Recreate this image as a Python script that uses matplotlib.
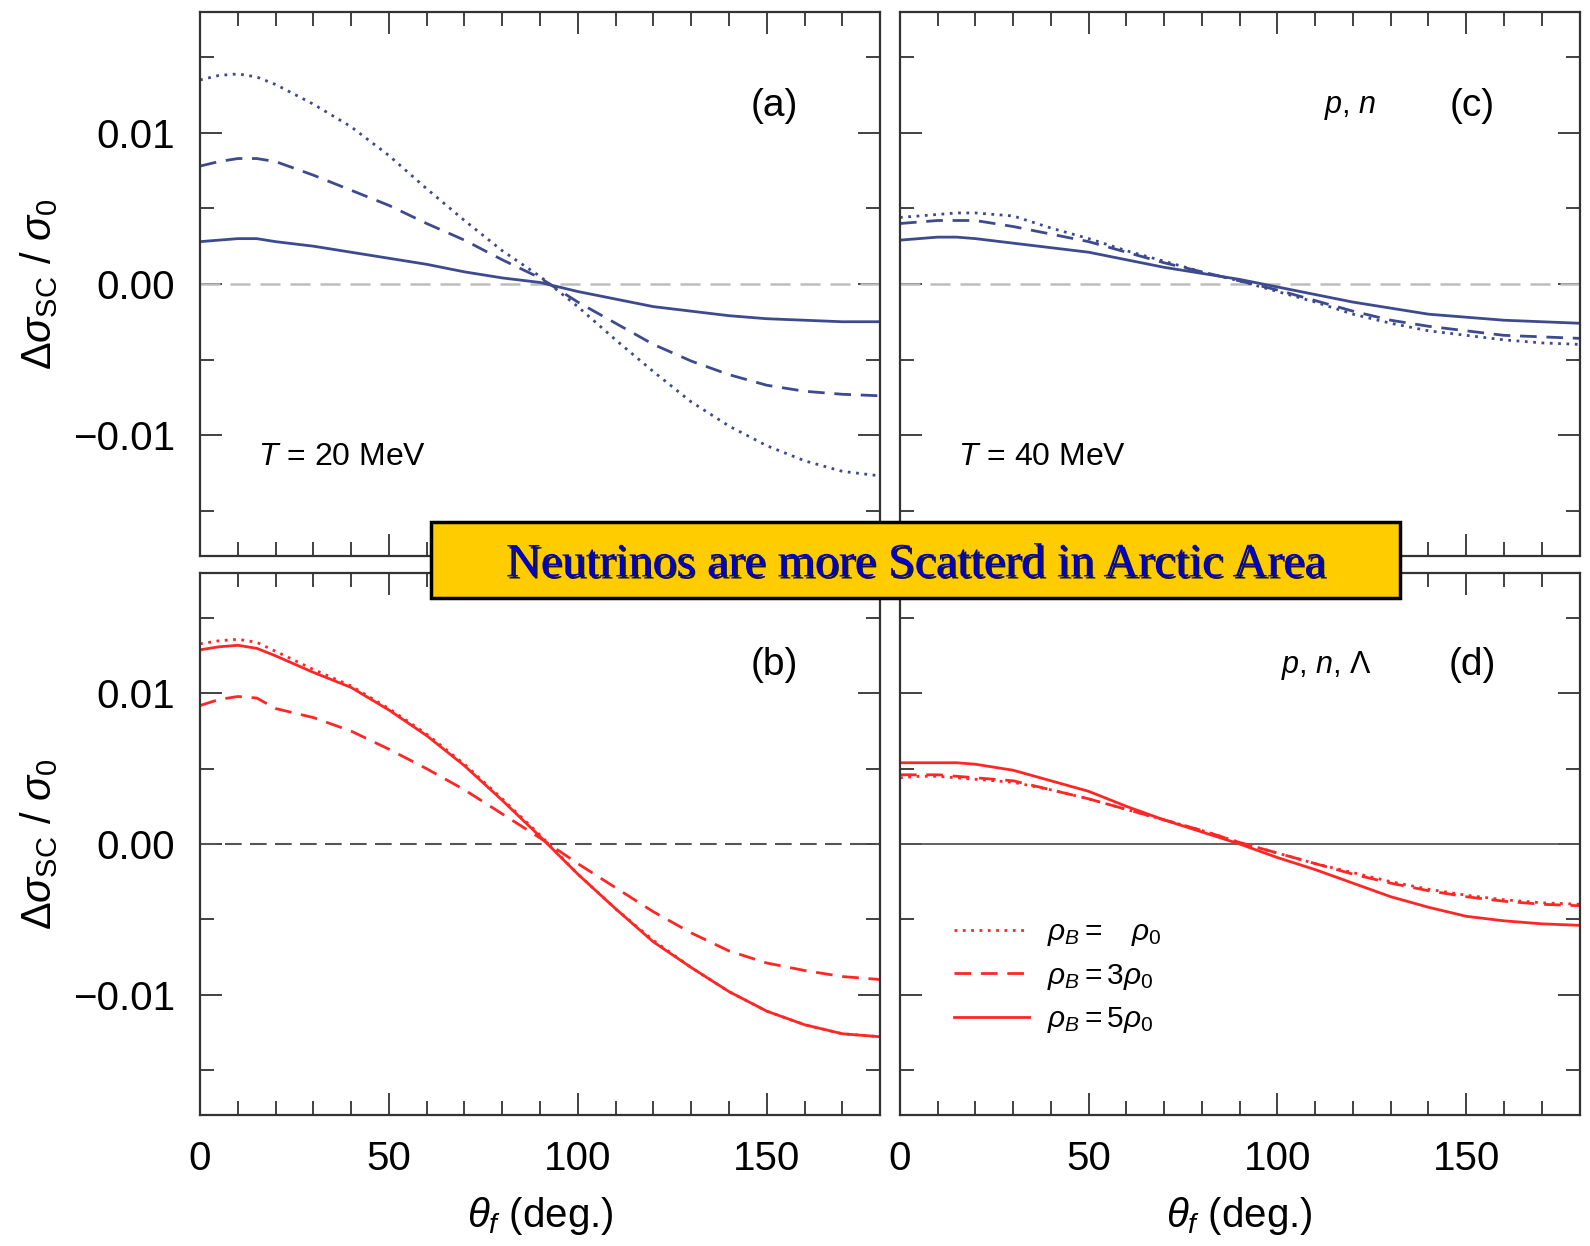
import matplotlib
matplotlib.use("Agg")
import matplotlib.pyplot as plt
import matplotlib.patheffects as pe
from matplotlib.patches import Rectangle
from matplotlib.ticker import MultipleLocator

plt.rcParams['font.family'] = ['Liberation Sans', 'DejaVu Sans']
plt.rcParams['mathtext.fontset'] = 'custom'
plt.rcParams['mathtext.rm'] = 'Liberation Sans'
plt.rcParams['mathtext.it'] = 'Liberation Sans:italic'
plt.rcParams['mathtext.bf'] = 'Liberation Sans:bold'

# ---------------- data ----------------
theta = [0, 5, 10, 15, 20, 30, 40, 50, 60, 70, 80, 90, 100, 110, 120, 130, 140, 150, 160, 170, 180]

# panel (a): T = 20 MeV, p, n
a_rho1 = [0.0135, 0.0138, 0.0139, 0.0137, 0.0132, 0.0119, 0.0104, 0.0085, 0.0063, 0.0042, 0.0022, 0.0005,
          -0.0015, -0.0037, -0.0058, -0.0078, -0.0094, -0.0107, -0.0117, -0.0124, -0.0127]
a_rho3 = [0.0078, 0.0081, 0.0083, 0.0083, 0.0081, 0.0072, 0.0062, 0.0052, 0.0040, 0.0029, 0.0016, 0.0004,
          -0.0012, -0.0026, -0.0040, -0.0051, -0.0060, -0.0067, -0.0071, -0.0073, -0.0074]
a_rho5 = [0.0028, 0.0029, 0.0030, 0.0030, 0.0028, 0.0025, 0.0021, 0.0017, 0.0013, 0.0008, 0.0004, 0.0001,
          -0.0005, -0.0010, -0.0015, -0.0018, -0.0021, -0.0023, -0.0024, -0.0025, -0.0025]

# panel (c): T = 40 MeV, p, n
c_rho1 = [0.0044, 0.0045, 0.0046, 0.0047, 0.0047, 0.0045, 0.0037, 0.0030, 0.0022, 0.0015, 0.0008, 0.0002,
          -0.0005, -0.0012, -0.0020, -0.0026, -0.0031, -0.0034, -0.0037, -0.0039, -0.0040]
c_rho3 = [0.0040, 0.0041, 0.0042, 0.0042, 0.0042, 0.0038, 0.0033, 0.0028, 0.0021, 0.0014, 0.0008, 0.0002,
          -0.0004, -0.0011, -0.0018, -0.0024, -0.0028, -0.0031, -0.0034, -0.0035, -0.0036]
c_rho5 = [0.0029, 0.0030, 0.0031, 0.0031, 0.0030, 0.0027, 0.0024, 0.0021, 0.0016, 0.0011, 0.0007, 0.0003,
          -0.0002, -0.0007, -0.0012, -0.0016, -0.0020, -0.0022, -0.0024, -0.0025, -0.0026]

# panel (b): T = 20 MeV, p, n, Lambda
b_rho1 = [0.0133, 0.0135, 0.0136, 0.0134, 0.0128, 0.0116, 0.0105, 0.0090, 0.0073, 0.0053, 0.0030, 0.0006,
          -0.0020, -0.0043, -0.0064, -0.0082, -0.0098, -0.0111, -0.0120, -0.0126, -0.0128]
b_rho3 = [0.0092, 0.0096, 0.0098, 0.0097, 0.0090, 0.0084, 0.0075, 0.0063, 0.0050, 0.0036, 0.0020, 0.0004,
          -0.0013, -0.0029, -0.0045, -0.0059, -0.0071, -0.0079, -0.0084, -0.0088, -0.0090]
b_rho5 = [0.0129, 0.0131, 0.0132, 0.0130, 0.0125, 0.0114, 0.0104, 0.0089, 0.0072, 0.0052, 0.0029, 0.0005,
          -0.0020, -0.0043, -0.0065, -0.0082, -0.0098, -0.0111, -0.0120, -0.0126, -0.0128]

# panel (d): T = 40 MeV, p, n, Lambda
d_rho1 = [0.0044, 0.0045, 0.0045, 0.0044, 0.0043, 0.0041, 0.0036, 0.0030, 0.0023, 0.0016, 0.0009, 0.0001,
          -0.0006, -0.0013, -0.0019, -0.0025, -0.0030, -0.0034, -0.0037, -0.0039, -0.0040]
d_rho3 = [0.0046, 0.0046, 0.0046, 0.0045, 0.0044, 0.0042, 0.0036, 0.0030, 0.0023, 0.0016, 0.0009, 0.0001,
          -0.0006, -0.0013, -0.0020, -0.0026, -0.0031, -0.0035, -0.0038, -0.0040, -0.0041]
d_rho5 = [0.0054, 0.0054, 0.0054, 0.0054, 0.0053, 0.0049, 0.0042, 0.0035, 0.0025, 0.0016, 0.0008, 0.0000,
          -0.0009, -0.0017, -0.0026, -0.0035, -0.0042, -0.0048, -0.0051, -0.0053, -0.0054]

y_ticks = [-0.01, 0.0, 0.01]
y_ticklabels = ['\u22120.01', '0.00', '0.01']
x_ticks = [0, 50, 100, 150]
legend_labels = [r'$\rho_B = \ \ \ \rho_0$', r'$\rho_B = 3\rho_0$', r'$\rho_B = 5\rho_0$']

BLUE = '#3e4a8e'
RED = '#ff2626'
DOT = (0, (1, 2))
DASH = (0, (6, 3.5))

fig = plt.figure(figsize=(15.9, 12.46), dpi=100)

ax_a = fig.add_axes([0.1258, 0.5538, 0.4277, 0.4366])
ax_c = fig.add_axes([0.5660, 0.5538, 0.4274, 0.4366])
ax_b = fig.add_axes([0.1258, 0.1051, 0.4277, 0.4350])
ax_d = fig.add_axes([0.5660, 0.1051, 0.4274, 0.4350])


def style(ax, left_labels, bottom_labels):
    ax.set_xlim(0, 180)
    ax.set_ylim(-0.018, 0.018)
    ax.xaxis.set_major_locator(MultipleLocator(50))
    ax.xaxis.set_minor_locator(MultipleLocator(10))
    ax.set_yticks(y_ticks)
    ax.yaxis.set_minor_locator(MultipleLocator(0.005))
    ax.tick_params(which='both', direction='in', top=True, right=True,
                   width=1.3, color='#333333', labelsize=29)
    ax.tick_params(axis='y', which='both', pad=18)
    ax.tick_params(axis='x', which='both', pad=18)
    ax.tick_params(which='major', length=16)
    ax.tick_params(which='minor', length=10)
    for s in ax.spines.values():
        s.set_linewidth(1.6)
        s.set_color('#333333')
    if left_labels:
        ax.set_yticklabels(y_ticklabels)
        ax.set_ylabel(r'$\Delta\sigma_{\rm SC}\ /\ \sigma_0$', fontsize=30, labelpad=9)
    else:
        ax.set_yticklabels([])
    if bottom_labels:
        ax.set_xticks(x_ticks)
        ax.set_xticklabels([str(v) for v in x_ticks])
        ax.set_xlabel(r'$\theta_f$ (deg.)', fontsize=29, labelpad=12)
    else:
        ax.set_xticklabels([])


# (a)
ax_a.axhline(0, color='#bdbdbd', lw=1.8, ls=(0, (8, 4)))
ax_a.plot(theta, a_rho1, color=BLUE, lw=2.0, ls=DOT)
ax_a.plot(theta, a_rho3, color=BLUE, lw=2.0, ls=DASH)
ax_a.plot(theta, a_rho5, color=BLUE, lw=2.0, ls='-')
style(ax_a, True, False)
ax_a.text(0.845, 0.828, '(a)', transform=ax_a.transAxes, fontsize=28, ha='center', va='center')
ax_a.text(0.085, 0.182, r'$T$ = 20 MeV', transform=ax_a.transAxes, fontsize=23, ha='left', va='center')

# (c)
ax_c.axhline(0, color='#bdbdbd', lw=1.8, ls=(0, (8, 4)))
ax_c.plot(theta, c_rho1, color=BLUE, lw=2.0, ls=DOT)
ax_c.plot(theta, c_rho3, color=BLUE, lw=2.0, ls=DASH)
ax_c.plot(theta, c_rho5, color=BLUE, lw=2.0, ls='-')
style(ax_c, False, False)
ax_c.text(0.842, 0.828, '(c)', transform=ax_c.transAxes, fontsize=28, ha='center', va='center')
ax_c.text(0.662, 0.826, r'$p$, $n$', transform=ax_c.transAxes, fontsize=22, ha='center', va='center')
ax_c.text(0.085, 0.182, r'$T$ = 40 MeV', transform=ax_c.transAxes, fontsize=23, ha='left', va='center')

# (b)
ax_b.axhline(0, color='#555555', lw=1.5, ls=(0, (8, 4)))
ax_b.plot(theta, b_rho1, color=RED, lw=2.0, ls=DOT)
ax_b.plot(theta, b_rho3, color=RED, lw=2.0, ls=DASH)
ax_b.plot(theta, b_rho5, color=RED, lw=2.0, ls='-')
style(ax_b, True, True)
ax_b.text(0.845, 0.83, '(b)', transform=ax_b.transAxes, fontsize=28, ha='center', va='center')

# (d)
ax_d.axhline(0, color='#555555', lw=1.3, ls='-')
l1, = ax_d.plot(theta, d_rho1, color=RED, lw=2.0, ls=DOT)
l2, = ax_d.plot(theta, d_rho3, color=RED, lw=2.0, ls=DASH)
l3, = ax_d.plot(theta, d_rho5, color=RED, lw=2.0, ls='-')
style(ax_d, False, True)
ax_d.text(0.842, 0.83, '(d)', transform=ax_d.transAxes, fontsize=28, ha='center', va='center')
ax_d.text(0.627, 0.83, r'$p$, $n$, $\Lambda$', transform=ax_d.transAxes, fontsize=22, ha='center', va='center')
ax_d.legend([l1, l2, l3], legend_labels, loc='upper left', bbox_to_anchor=(0.08, 0.363),
            frameon=False, fontsize=21.5, handlelength=2.5, handletextpad=0.6,
            labelspacing=0.45, borderpad=0, borderaxespad=0)

# title banner
rect = Rectangle((0.2711, 0.520), 0.6094, 0.061, transform=fig.transFigure,
                 facecolor='#ffcc00', edgecolor='black', linewidth=2.5, zorder=10)
fig.add_artist(rect)
fig.text(0.576, 0.547, 'Neutrinos are more Scatterd in Arctic Area', fontsize=34.5,
         family='Liberation Serif', color='#0000cc', ha='center', va='center', zorder=11,
         path_effects=[pe.withSimplePatchShadow(offset=(1.5, -1.5), shadow_rgbFace='#111111', alpha=0.95)])

fig.savefig('out.png', dpi=100)
